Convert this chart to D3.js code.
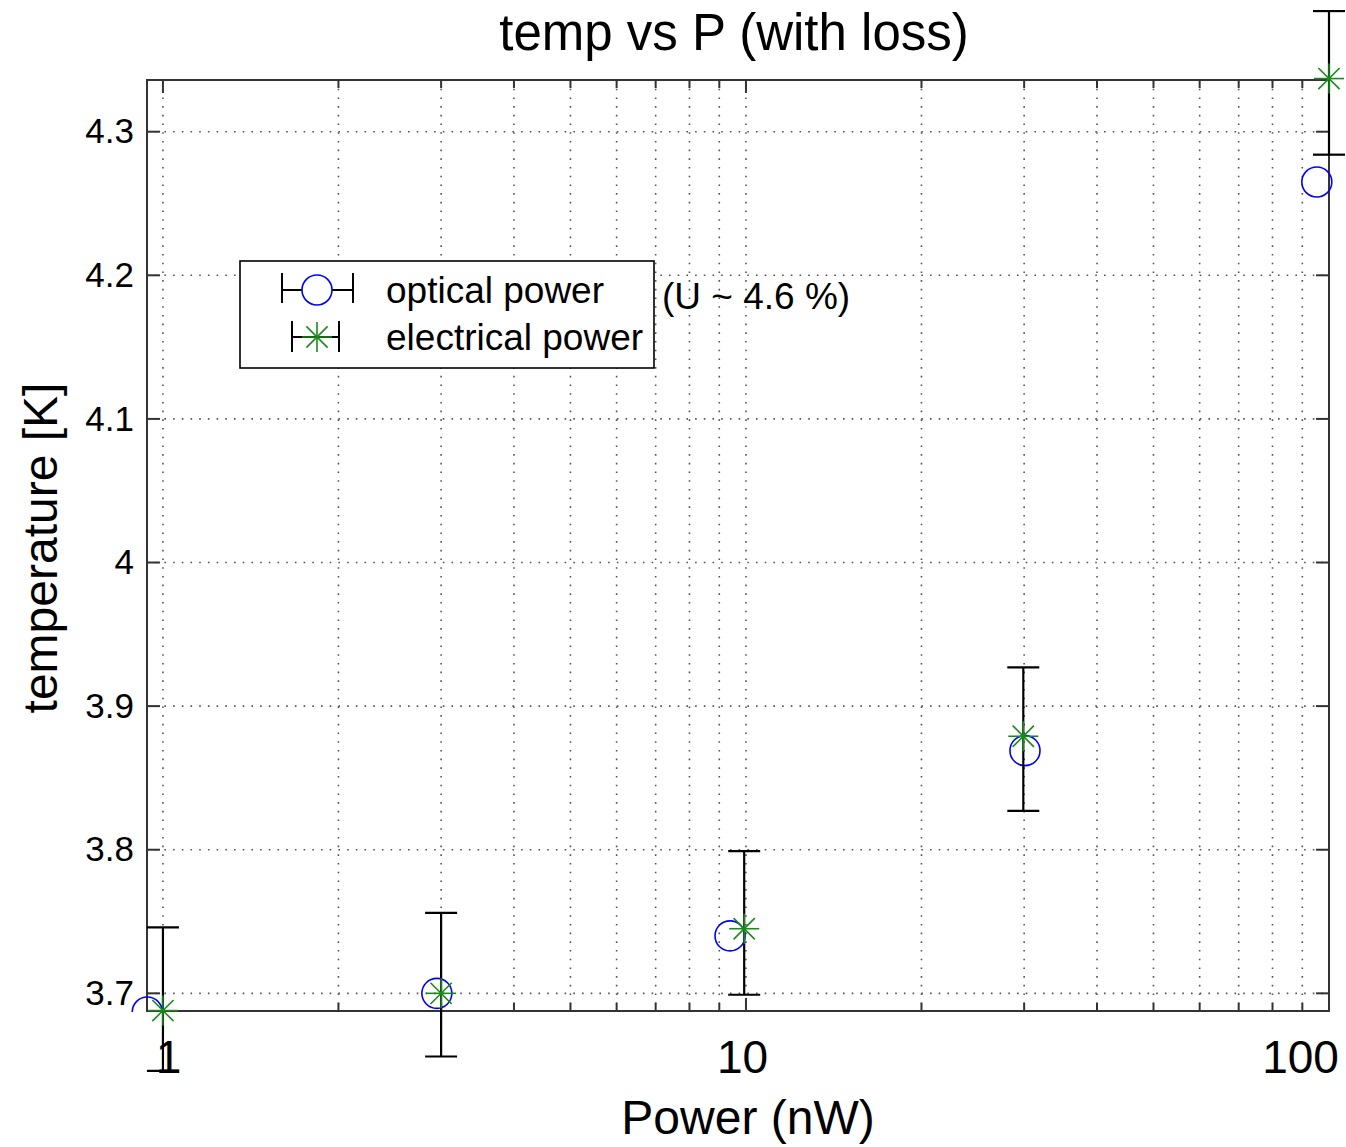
<!DOCTYPE html>
<html>
<head>
<meta charset="utf-8">
<script src="https://cdn.jsdelivr.net/npm/d3@7"></script>
<style>
  body { margin: 0; background: #fff; }
  svg { display: block; font-family: 'Liberation Sans', Arial, sans-serif; }
</style>
</head>
<body>
<div id="root"></div>
<script>
// values
const opticalPower = [0.94, 2.95, 9.39, 30.1, 95.3]
const opticalTemp = [3.687, 3.700, 3.740, 3.869, 4.265]
const electricalPower = [1.0, 3.0, 9.93, 29.9, 100]
const electricalTemp = [3.688, 3.700, 3.745, 3.879, 4.337]
const electricalLow = [3.646, 3.656, 3.699, 3.827, 4.284]
const electricalHigh = [3.746, 3.756, 3.799, 3.927, 4.384]

const xMajorTicks = [1, 10, 100]
const xTickLabels = ['1', '10', '100']
const xMinorTicks = [2, 3, 4, 5, 6, 7, 8, 9, 20, 30, 40, 50, 60, 70, 80, 90]
const yTicks = [3.7, 3.8, 3.9, 4.0, 4.1, 4.2, 4.3]
const yTickLabels = ['3.7', '3.8', '3.9', '4', '4.1', '4.2', '4.3']
const legendLabels = ['optical power', 'electrical power']

const dimensions = {
  width: 1346,
  height: 1147,
  margin: { top: 80, right: 17, bottom: 136, left: 147 }
}
const plotRight = dimensions.width - dimensions.margin.right
const plotBottom = dimensions.height - dimensions.margin.bottom

const blue = '#0000ff'
const green = '#1a8a1a'

const svg = d3.select('#root')
  .append('svg')
  .attr('width', dimensions.width)
  .attr('height', dimensions.height)

const xScale = d3.scaleLog()
  .domain([0.939, 100])
  .range([dimensions.margin.left, plotRight])

const yScale = d3.scaleLinear()
  .domain([3.6877, 4.336])
  .range([plotBottom, dimensions.margin.top])

// grid
const grid = svg.append('g')
grid.selectAll('line.vgrid')
  .data(xMajorTicks.concat(xMinorTicks))
  .join('line')
  .attr('class', 'vgrid')
  .attr('x1', d => xScale(d))
  .attr('x2', d => xScale(d))
  .attr('y1', dimensions.margin.top)
  .attr('y2', plotBottom)
grid.selectAll('line.hgrid')
  .data(yTicks)
  .join('line')
  .attr('class', 'hgrid')
  .attr('x1', dimensions.margin.left)
  .attr('x2', plotRight)
  .attr('y1', d => yScale(d))
  .attr('y2', d => yScale(d))
grid.selectAll('line')
  .style('stroke', '#555')
  .style('stroke-width', 1.6)
  .style('stroke-dasharray', '1.6 7.1')

// inward ticks on all four sides
const ticks = svg.append('g')
  .style('stroke', '#333')
  .style('stroke-width', 2)
function xTick (values, len) {
  values.forEach(v => {
    ticks.append('line')
      .attr('x1', xScale(v)).attr('x2', xScale(v))
      .attr('y1', plotBottom).attr('y2', plotBottom - len)
    ticks.append('line')
      .attr('x1', xScale(v)).attr('x2', xScale(v))
      .attr('y1', dimensions.margin.top).attr('y2', dimensions.margin.top + len)
  })
}
xTick(xMajorTicks, 13)
xTick(xMinorTicks, 8)
yTicks.forEach(v => {
  ticks.append('line')
    .attr('x1', dimensions.margin.left).attr('x2', dimensions.margin.left + 13)
    .attr('y1', yScale(v)).attr('y2', yScale(v))
  ticks.append('line')
    .attr('x1', plotRight).attr('x2', plotRight - 13)
    .attr('y1', yScale(v)).attr('y2', yScale(v))
})

svg.append('rect')
  .attr('x', dimensions.margin.left)
  .attr('y', dimensions.margin.top)
  .attr('width', plotRight - dimensions.margin.left)
  .attr('height', plotBottom - dimensions.margin.top)
  .style('fill', 'none')
  .style('stroke', '#333')
  .style('stroke-width', 2)

// axes labels through d3 axes
const xAxis = svg.append('g')
  .attr('transform', `translate(0, ${plotBottom})`)
  .call(d3.axisBottom(xScale).tickValues(xMajorTicks).tickFormat((d, i) => xTickLabels[i]).tickSize(0).tickPadding(29))
xAxis.select('.domain').remove()
xAxis.selectAll('text')
  .attr('font-size', 46)
  .attr('font-family', 'Liberation Sans, Arial, sans-serif')
  .attr('fill', '#000')
  .attr('dy', '0.71em')
  .attr('x', (d, i) => [5, -4, -29][i])

const yAxis = svg.append('g')
  .attr('transform', `translate(${dimensions.margin.left}, 0)`)
  .call(d3.axisLeft(yScale).tickValues(yTicks).tickFormat((d, i) => yTickLabels[i]).tickSize(0).tickPadding(13))
yAxis.select('.domain').remove()
yAxis.selectAll('text')
  .attr('font-size', 35)
  .attr('font-family', 'Liberation Sans, Arial, sans-serif')
  .attr('fill', '#000')

// clip the circles at the bottom axis
svg.append('clipPath')
  .attr('id', 'bottomclip')
  .append('rect')
  .attr('x', 0).attr('y', 0)
  .attr('width', dimensions.width)
  .attr('height', plotBottom + 1)

// optical power markers
svg.append('g')
  .attr('clip-path', 'url(#bottomclip)')
  .selectAll('circle')
  .data(opticalPower)
  .join('circle')
  .attr('cx', d => xScale(d))
  .attr('cy', (d, i) => yScale(opticalTemp[i]))
  .attr('r', 15)
  .style('fill', 'none')
  .style('stroke', blue)
  .style('stroke-width', 1.6)

// error bars for electrical power
const bars = svg.append('g')
  .style('stroke', '#000')
  .style('stroke-width', 2.2)
electricalPower.forEach((p, i) => {
  const x = xScale(p)
  bars.append('line')
    .attr('x1', x).attr('x2', x)
    .attr('y1', yScale(electricalLow[i])).attr('y2', yScale(electricalHigh[i]))
  bars.append('line')
    .attr('x1', x - 16).attr('x2', x + 16)
    .attr('y1', yScale(electricalLow[i])).attr('y2', yScale(electricalLow[i]))
  bars.append('line')
    .attr('x1', x - 16).attr('x2', x + 16)
    .attr('y1', yScale(electricalHigh[i])).attr('y2', yScale(electricalHigh[i]))
})

function star (g, cx, cy, r) {
  const s = g.append('g')
    .style('stroke', green)
    .style('stroke-width', 1.6)
  const d = r * Math.SQRT1_2
  s.append('line').attr('x1', cx - r).attr('x2', cx + r).attr('y1', cy).attr('y2', cy)
  s.append('line').attr('x1', cx).attr('x2', cx).attr('y1', cy - r).attr('y2', cy + r)
  s.append('line').attr('x1', cx - d).attr('x2', cx + d).attr('y1', cy - d).attr('y2', cy + d)
  s.append('line').attr('x1', cx - d).attr('x2', cx + d).attr('y1', cy + d).attr('y2', cy - d)
}

const stars = svg.append('g')
electricalPower.forEach((p, i) => {
  star(stars, xScale(p), yScale(electricalTemp[i]), 15)
})

// legend
const legend = svg.append('g')
legend.append('rect')
  .attr('x', 240).attr('y', 261)
  .attr('width', 414).attr('height', 107)
  .style('fill', '#fff')
  .style('stroke', '#000')
  .style('stroke-width', 1.6)

const lg = legend.append('g')
  .style('stroke', '#000')
  .style('stroke-width', 2)
lg.append('line').attr('x1', 282).attr('x2', 353).attr('y1', 290).attr('y2', 290)
lg.append('line').attr('x1', 282).attr('x2', 282).attr('y1', 273).attr('y2', 303)
lg.append('line').attr('x1', 353).attr('x2', 353).attr('y1', 273).attr('y2', 303)
legend.append('circle')
  .attr('cx', 317).attr('cy', 290).attr('r', 15)
  .style('fill', '#fff')
  .style('stroke', blue)
  .style('stroke-width', 1.6)

lg.append('line').attr('x1', 292).attr('x2', 339).attr('y1', 337).attr('y2', 337)
lg.append('line').attr('x1', 292).attr('x2', 292).attr('y1', 321).attr('y2', 352)
lg.append('line').attr('x1', 339).attr('x2', 339).attr('y1', 321).attr('y2', 352)
star(legend, 317, 337, 15)

legend.selectAll('text')
  .data(legendLabels)
  .join('text')
  .attr('x', 386)
  .attr('y', (d, i) => 303 + i * 47)
  .attr('font-size', 37)
  .attr('fill', '#000')
  .text(d => d)

svg.append('text')
  .attr('x', 662)
  .attr('y', 309)
  .attr('font-size', 37)
  .attr('fill', '#000')
  .text('(U ~ 4.6 %)')

// titles
svg.append('text')
  .attr('x', 734)
  .attr('y', 50)
  .attr('font-size', 51)
  .attr('fill', '#000')
  .style('text-anchor', 'middle')
  .text('temp vs P (with loss)')

svg.append('text')
  .attr('x', 748)
  .attr('y', 1134)
  .attr('font-size', 48)
  .attr('fill', '#000')
  .style('text-anchor', 'middle')
  .text('Power (nW)')

svg.append('text')
  .attr('transform', 'translate(57, 548) rotate(-90)')
  .attr('font-size', 48)
  .attr('fill', '#000')
  .style('text-anchor', 'middle')
  .text('temperature [K]')
</script>
</body>
</html>
